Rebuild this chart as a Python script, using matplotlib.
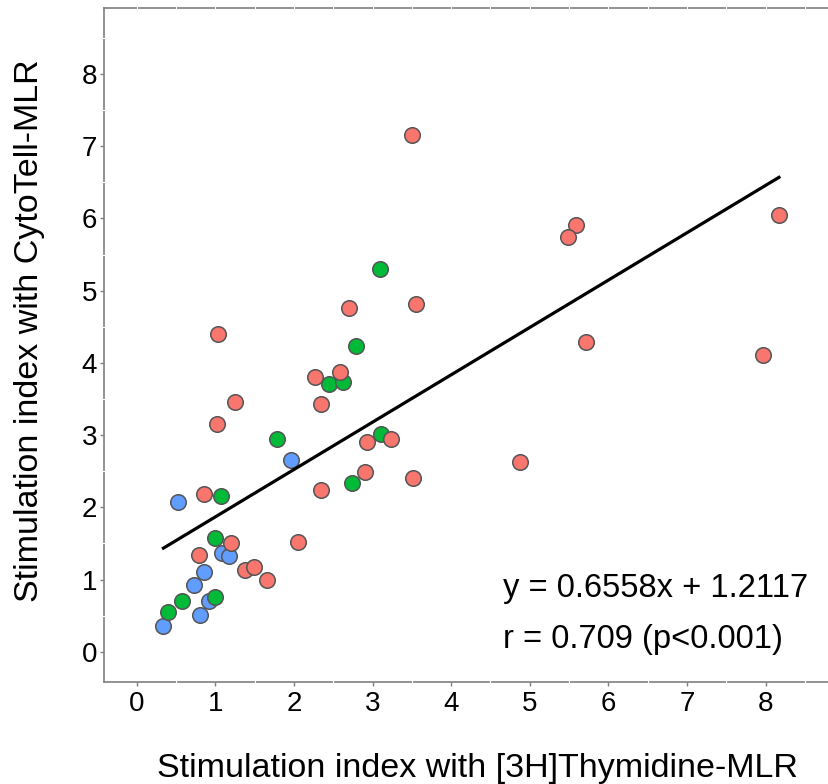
import matplotlib
matplotlib.use("Agg")
import matplotlib.pyplot as plt
import numpy as np

plt.rcParams['font.family'] = ['Liberation Sans', 'DejaVu Sans']

# groups
red_x = [3.50, 5.59, 5.49, 8.17, 3.55, 2.70, 1.03, 5.72, 7.97, 2.58, 2.27, 1.25, 2.35,
         1.02, 3.24, 2.93, 2.91, 4.87, 3.52, 2.35, 0.86, 2.05, 1.20, 0.79, 1.38, 1.49, 1.66]
red_y = [7.16, 5.91, 5.74, 6.05, 4.82, 4.76, 4.40, 4.29, 4.11, 3.88, 3.80, 3.46, 3.43,
         3.15, 2.95, 2.90, 2.49, 2.63, 2.41, 2.24, 2.18, 1.52, 1.50, 1.34, 1.13, 1.18, 0.99]
green_x = [3.10, 2.79, 2.45, 2.63, 1.78, 3.11, 2.74, 1.07, 1.00, 0.57, 0.40, 1.00]
green_y = [5.30, 4.24, 3.71, 3.74, 2.94, 3.02, 2.34, 2.16, 1.58, 0.70, 0.55, 0.76]
blue_x = [1.96, 0.53, 1.09, 1.17, 0.85, 0.73, 0.34, 0.80, 0.92]
blue_y = [2.66, 2.07, 1.37, 1.33, 1.11, 0.92, 0.35, 0.51, 0.70]

slope, intercept = 0.6558, 1.2117
eq_text = "y = 0.6558x + 1.2117"
r_text = "r = 0.709 (p<0.001)"

fig = plt.figure(figsize=(8.29, 7.84), dpi=100)
ax = fig.add_axes([104/829, 1-681.7/784, 1-104/829, (681.7-8.3)/784])

for xs, ys, c in [(blue_x, blue_y, '#619CFF'), (green_x, green_y, '#00BA38'), (red_x, red_y, '#F8766D')]:
    ax.scatter(xs, ys, s=125, c=c, edgecolors='#555555', linewidths=1.1, zorder=4)

all_x = np.array(red_x + green_x + blue_x)
lx = np.array([all_x.min(), all_x.max()])
ax.plot(lx, slope*lx + intercept, color='black', lw=2.3, zorder=5)

ax.text(4.66, 0.76, eq_text, fontsize=23.5, ha='left', va='baseline')
ax.text(4.66, 0.05, r_text, fontsize=23.5, ha='left', va='baseline')

ax.set_xlim(-0.416, 8.807)
ax.set_ylim(-0.415, 8.911)
ax.set_xticks(range(9))
ax.set_yticks(range(9))
ax.tick_params(labelsize=20, color='#7f7f7f', length=3, width=1)
ax.tick_params(axis='x', pad=4)
ax.tick_params(axis='y', pad=2)
ax.spines['right'].set_visible(False)
for s in ['left', 'bottom', 'top']:
    ax.spines[s].set_color('#7f7f7f')
    ax.spines[s].set_linewidth(1.2)

# light breaks in the border, like the reference
for v in np.arange(0.5, 8.6, 1.0):
    ax.plot([v, v], [-0.01, 1.01], color='white', lw=0.8, zorder=2.6,
            transform=ax.get_xaxis_transform(), clip_on=False)
    ax.plot([-0.01, 0.01], [v, v], color='white', lw=0.8, zorder=2.6,
            transform=ax.get_yaxis_transform(), clip_on=False)
for v in np.arange(0, 9, 1.0):
    ax.plot([v, v], [0.99, 1.01], color='white', lw=0.8, zorder=2.6,
            transform=ax.get_xaxis_transform(), clip_on=False)

fig.text(477.5/829, 7/784, "Stimulation index with [3H]Thymidine-MLR", fontsize=24.5,
         ha='center', va='baseline')
fig.text(14/829, 1-331/784, "Stimulation index with CytoTell-MLR", fontsize=24.5,
         ha='left', va='center', rotation=90)

fig.savefig('out.png', dpi=100)
